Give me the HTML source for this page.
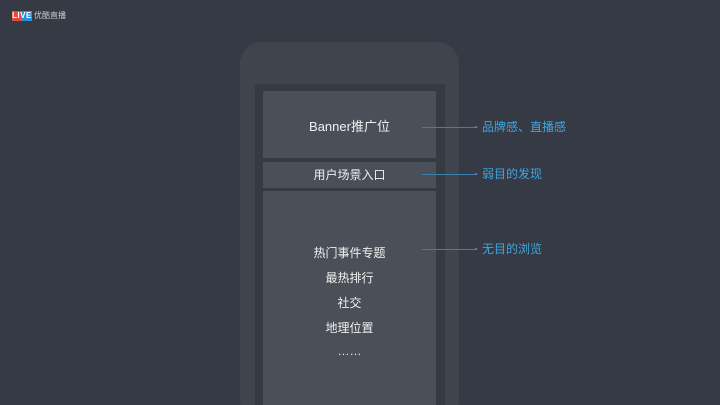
<!DOCTYPE html>
<html style="overflow:hidden;height:405px"><head><meta charset="utf-8"><style>
html,body{margin:0;width:720px;height:405px;overflow:hidden}
body{background:#363a44;position:relative;font-family:"Liberation Sans","Noto Sans CJK SC",sans-serif}
.a{position:absolute}
.t{position:absolute;color:#f0f0f0;font-size:12px;width:173px;left:263px;text-align:center;line-height:14px}
.b{position:absolute;color:#3fa6e0;font-size:12px;line-height:14px}
.l{position:absolute;height:1px;background:#3a7fae;left:422px;width:54px}
.l:after{content:"";position:absolute;right:-2px;top:-1px;border-left:3px solid #3fa6e0;border-top:1.5px solid transparent;border-bottom:1.5px solid transparent}
</style></head><body>
<div class="a" style="left:0;top:0;width:720px;height:405px;overflow:hidden">
<div class="a" style="left:12px;top:11px;width:9px;height:10px;background:#e04a3c"></div>
<div class="a" style="left:21px;top:11px;width:11px;height:10px;background:#2a8fd8"></div>
<div class="a" style="left:12px;top:10px;font-size:8px;color:#fff;font-weight:bold;line-height:12px;letter-spacing:0.5px">LIVE</div>
<div class="a" style="left:34px;top:10px;font-size:8px;color:#ccc;line-height:12px">优酷直播</div>
<div class="a" style="left:240px;top:42px;width:219px;height:380px;background:#40444d;border-radius:22px"></div>
<div class="a" style="left:255px;top:84px;width:190px;height:330px;background:#363a43"></div>
<div class="a" style="left:263px;top:91px;width:173px;height:67px;background:#4a4f58"></div>
<div class="a" style="left:263px;top:162px;width:173px;height:26px;background:#4a4f58"></div>
<div class="a" style="left:263px;top:191px;width:173px;height:220px;background:#4a4f58"></div>
<div class="t" style="top:120px;font-size:13px">Banner推广位</div>
<div class="t" style="top:168px">用户场景入口</div>
<div class="t" style="top:246px">热门事件专题</div>
<div class="t" style="top:271px">最热排行</div>
<div class="t" style="top:296px">社交</div>
<div class="t" style="top:321px">地理位置</div>
<div class="t" style="top:344px">……</div>
<div class="l" style="top:127px"></div><div class="b" style="left:482px;top:120px">品牌感、直播感</div>
<div class="l" style="top:174px"></div><div class="b" style="left:482px;top:167px">弱目的发现</div>
<div class="l" style="top:249px"></div><div class="b" style="left:482px;top:242px">无目的浏览</div>
</div>
</body></html>
